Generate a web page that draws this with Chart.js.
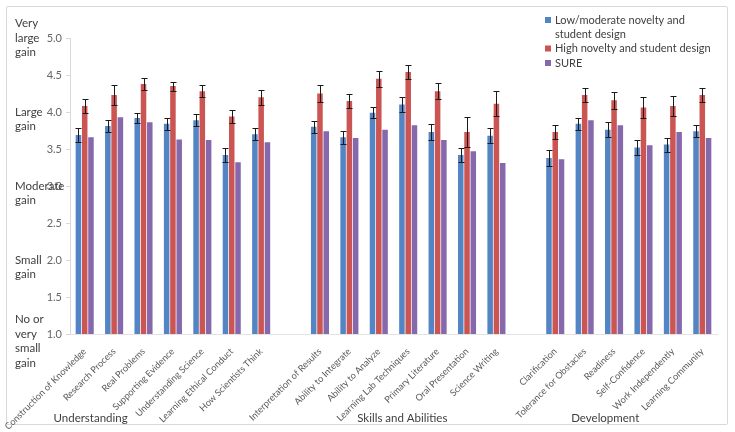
<!DOCTYPE html>
<html>
<head>
<meta charset="utf-8">
<script src="https://cdn.jsdelivr.net/npm/chart.js@4.4.0/dist/chart.umd.min.js"></script>
<style>
  html, body { margin: 0; padding: 0; background: #fff; }
  #wrap { position: relative; width: 735px; height: 432px; }
  #frame { position: absolute; left: 6px; top: 6px; width: 720px; height: 417px; border: 1px solid #d9d9d9; border-radius: 2px; }
  canvas { position: absolute; left: 0; top: 0; }
</style>
</head>
<body>
<div id="wrap">
  <div id="frame"></div>
  <canvas id="main-chart" width="735" height="432"></canvas>
</div>
<script>
// ── Data ─────────────────────────────────────────────────────
const CATEGORIES = [
  'Construction of Knowledge', 'Research Process', 'Real Problems', 'Supporting Evidence',
  'Understanding Science', 'Learning Ethical Conduct', 'How Scientists Think', '',
  'Interpretation of Results', 'Ability to Integrate', 'Ability to Analyze', 'Learning Lab Techniques',
  'Primary Literature', 'Oral Presentation', 'Science Writing', '',
  'Clarification', 'Tolerance for Obstacles', 'Readiness', 'Self-Confidence',
  'Work Independently', 'Learning Community'
];
const SERIES_NAMES = ['Low/moderate novelty and student design', 'High novelty and student design', 'SURE'];
const LOW  = [3.69, 3.81, 3.92, 3.84, 3.89, 3.42, 3.70, null, 3.80, 3.66, 3.99, 4.10, 3.73, 3.42, 3.68, null, 3.38, 3.84, 3.76, 3.52, 3.56, 3.74];
const HIGH = [4.08, 4.23, 4.38, 4.35, 4.28, 3.94, 4.20, null, 4.25, 4.15, 4.45, 4.54, 4.28, 3.73, 4.11, null, 3.73, 4.23, 4.16, 4.06, 4.08, 4.23];
const SURE = [3.66, 3.93, 3.86, 3.63, 3.62, 3.32, 3.59, null, 3.74, 3.65, 3.76, 3.82, 3.62, 3.47, 3.31, null, 3.36, 3.89, 3.82, 3.55, 3.73, 3.65];
const LOW_ERR  = [0.09, 0.085, 0.07, 0.085, 0.08, 0.10, 0.085, null, 0.08, 0.09, 0.075, 0.10, 0.105, 0.095, 0.10, null, 0.11, 0.085, 0.10, 0.095, 0.095, 0.08];
const HIGH_ERR = [0.10, 0.13, 0.08, 0.06, 0.08, 0.09, 0.10, null, 0.11, 0.10, 0.11, 0.10, 0.11, 0.20, 0.17, null, 0.09, 0.10, 0.115, 0.14, 0.13, 0.10];
const GROUPS = ['Understanding', 'Skills and Abilities', 'Development'];
const GAIN_LABELS = [['Very', 'large', 'gain'], ['Large', 'gain'], ['Moderate', 'gain'], ['Small', 'gain'], ['No or', 'very', 'small', 'gain']];
const GAIN_VALUES = [5, 4, 3, 2, 1];
const Y_MIN = 1, Y_MAX = 5, Y_STEP = 0.5;

const COLORS = ['#5384c4', '#cb5552', '#8669ac'];
const FONT = 'Lato';
const GREY = '#595959';

// ── Overlay: error bars, gain labels, group labels, legend ──
const overlay = {
  id: 'overlay',
  afterDatasetsDraw(chart) {
    const { ctx, scales: { y } } = chart;
    [[0, LOW_ERR], [1, HIGH_ERR]].forEach(([di, errs]) => {
      const vals = chart.data.datasets[di].data;
      chart.getDatasetMeta(di).data.forEach((bar, i) => {
        if (vals[i] == null || errs[i] == null) return;
        const x = Math.round(bar.x) + 0.5;
        const top = Math.round(y.getPixelForValue(vals[i] + errs[i])) + 0.5;
        const bot = Math.round(y.getPixelForValue(vals[i] - errs[i])) + 0.5;
        ctx.save();
        ctx.strokeStyle = '#1a1a1a';
        ctx.lineWidth = 1;
        ctx.beginPath();
        ctx.moveTo(x, top); ctx.lineTo(x, bot);
        ctx.moveTo(x - 3, top); ctx.lineTo(x + 3, top);
        ctx.moveTo(x - 3, bot); ctx.lineTo(x + 3, bot);
        ctx.stroke();
        ctx.restore();
      });
    });
  },
  afterDraw(chart) {
    const { ctx, scales: { x, y } } = chart;
    ctx.save();
    // qualitative gain labels on the left
    ctx.fillStyle = '#404040';
    ctx.font = `11.5px ${FONT}`;
    ctx.textAlign = 'left';
    ctx.textBaseline = 'middle';
    const lh = 14.5;
    GAIN_LABELS.forEach((lines, k) => {
      const py = y.getPixelForValue(GAIN_VALUES[k]);
      const anchor = Math.floor((lines.length - 1) / 2);
      lines.forEach((t, j) => ctx.fillText(t, 15, py + (j - anchor) * lh));
    });

    // group labels under the axis
    ctx.textAlign = 'center';
    const groupAt = [0.2, 10.8, 17.7];
    GROUPS.forEach((g, k) => ctx.fillText(g, x.getPixelForValue(groupAt[k]), 418));

    // legend (wrapped)
    ctx.font = `11px ${FONT}`;
    ctx.textAlign = 'left';
    const lx = 545, maxW = 150;
    let ly = 20;
    SERIES_NAMES.forEach((name, k) => {
      ctx.fillStyle = COLORS[k];
      ctx.fillRect(lx, ly - 3, 6, 6);
      ctx.fillStyle = '#404040';
      const words = name.split(' ');
      let line = '';
      words.forEach(w => {
        const test = line ? line + ' ' + w : w;
        if (k === 0 && ctx.measureText(test).width > maxW && line) {
          ctx.fillText(line, lx + 10, ly);
          line = w; ly += 14;
        } else line = test;
      });
      ctx.fillText(line, lx + 10, ly);
      ly += 14.5;
    });
    ctx.restore();
  }
};

// ── Chart ────────────────────────────────────────────────────
new Chart(document.getElementById('main-chart').getContext('2d'), {
  type: 'bar',
  data: {
    labels: CATEGORIES,
    datasets: [LOW, HIGH, SURE].map((d, k) => ({
      label: SERIES_NAMES[k],
      data: d,
      backgroundColor: COLORS[k],
      categoryPercentage: 0.64,
      barPercentage: 0.88,
    }))
  },
  options: {
    responsive: false,
    animation: false,
    layout: { padding: { top: 38, right: 18, bottom: 0, left: 0 } },
    plugins: { legend: { display: false }, tooltip: { enabled: false } },
    scales: {
      x: {
        grid: { display: false },
        border: { display: true, color: '#e3e3e3' },
        ticks: {
          autoSkip: false, maxRotation: 45, minRotation: 45, padding: 4,
          color: GREY, font: { size: 9.2, family: FONT }
        },
        afterFit: s => { s.height = 98; }
      },
      y: {
        min: Y_MIN, max: Y_MAX,
        grid: { drawOnChartArea: false, drawTicks: true, tickLength: 4, color: '#d9d9d9' },
        border: { display: true, color: '#d9d9d9' },
        ticks: {
          stepSize: Y_STEP, padding: 4,
          color: '#666', font: { size: 11, family: FONT },
          callback: v => v.toFixed(1)
        },
        afterFit: s => { s.width = 70; }
      }
    }
  },
  plugins: [overlay]
});
</script>
</body>
</html>
